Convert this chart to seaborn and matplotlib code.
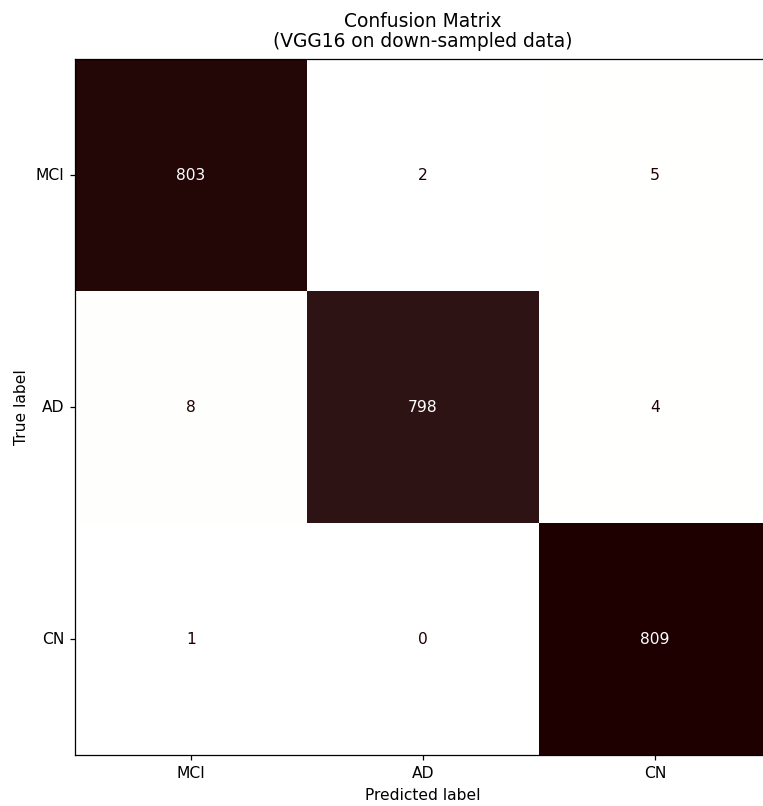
import numpy as np
import pandas as pd
import matplotlib
matplotlib.use("Agg")
import matplotlib.pyplot as plt
import seaborn as sns

classes = ["MCI", "AD", "CN"]
row_mci = [803, 2, 5]
row_ad = [8, 798, 4]
row_cn = [1, 0, 809]

cm = pd.DataFrame([row_mci, row_ad, row_cn], index=classes, columns=classes)

fig = plt.figure(figsize=(7.63, 8.06), dpi=100)
ax = fig.add_axes([75 / 763, 51 / 806, 696 / 763, 696 / 806])

cmap = plt.get_cmap("pink_r")
sns.heatmap(cm, annot=True, fmt="d", cmap=cmap, cbar=False, ax=ax,
            annot_kws={"fontsize": 11.2})

# text colour follows the cell shade: light text on dark cells
vmax = cm.values.max()
thresh = vmax / 2.0
for txt, val in zip(ax.texts, cm.values.ravel()):
    txt.set_color(cmap(0.0) if val >= thresh else cmap(1.0))

for side in ["top", "bottom", "left", "right"]:
    ax.spines[side].set_visible(True)
    ax.spines[side].set_color("black")
    ax.spines[side].set_linewidth(0.9)

ax.tick_params(axis="both", length=3.9, width=0.9, labelsize=11.2, pad=3.9)
ax.set_yticklabels(classes, rotation=0)
ax.set_xticklabels(classes, rotation=0)
ax.set_xlabel("Predicted label", fontsize=11.2, labelpad=5.5)
ax.set_ylabel("True label", fontsize=11.2, labelpad=4.5)
ax.set_title("Confusion Matrix\n(VGG16 on down-sampled data)", fontsize=13.4,
             pad=8.5, linespacing=1.1)

fig.savefig("out.png", dpi=100)
